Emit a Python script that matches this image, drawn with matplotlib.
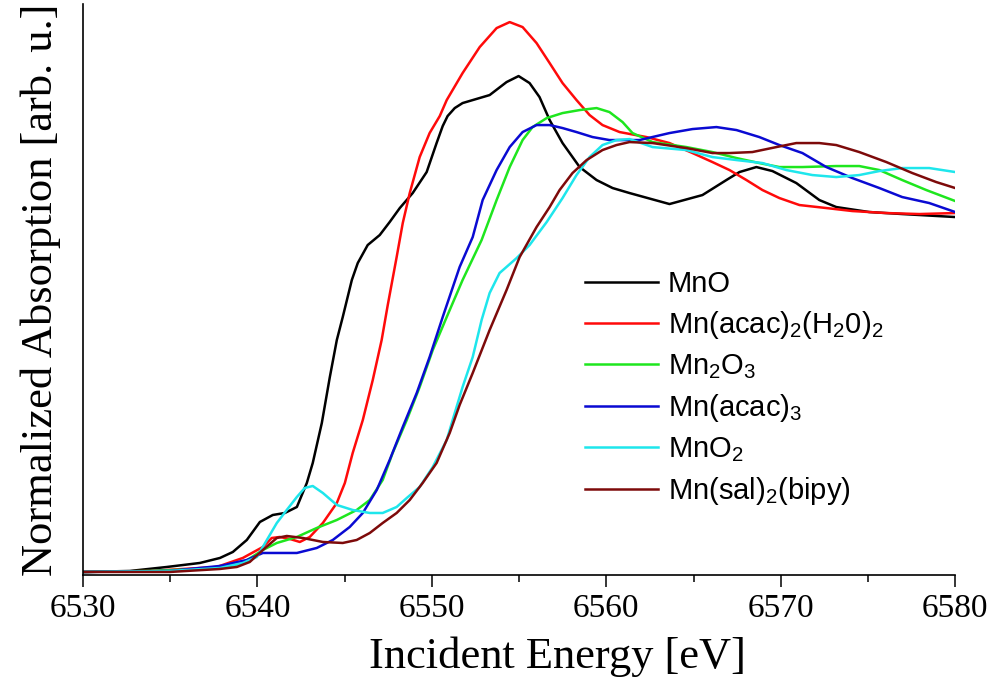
import matplotlib
matplotlib.use('Agg')
import matplotlib.pyplot as plt
from matplotlib.ticker import MultipleLocator, NullLocator

# energies in eV, absorption in arbitrary units
mno_e = [6530.00, 6532.69, 6534.81, 6536.70, 6537.85, 6538.59, 6539.39, 6540.14, 6540.88, 6541.57,
         6542.26, 6542.83, 6543.17, 6543.69, 6544.15, 6544.55, 6544.89, 6545.41, 6545.75, 6546.32,
         6547.01, 6547.58, 6548.16, 6548.90, 6549.70, 6550.27, 6550.62, 6550.90, 6551.31, 6551.76,
         6553.31, 6554.28, 6554.97, 6555.60, 6556.17, 6556.75, 6557.49, 6558.47, 6559.44, 6560.36,
         6561.33, 6563.62, 6565.51, 6566.88, 6567.63, 6568.60, 6569.52, 6570.89, 6572.21, 6573.18,
         6575.07, 6576.96, 6580.00]
mno_a = [0.00, 0.01, 0.05, 0.09, 0.14, 0.20, 0.32, 0.50, 0.57, 0.59,
         0.65, 0.89, 1.09, 1.49, 1.95, 2.32, 2.55, 2.92, 3.09, 3.27,
         3.37, 3.50, 3.64, 3.79, 4.00, 4.29, 4.46, 4.56, 4.64, 4.69,
         4.77, 4.90, 4.96, 4.89, 4.75, 4.52, 4.29, 4.05, 3.92, 3.84,
         3.79, 3.68, 3.77, 3.92, 4.00, 4.05, 4.01, 3.89, 3.72, 3.65,
         3.60, 3.58, 3.55]

acac2_e = [6530.00, 6533.84, 6536.70, 6537.67, 6539.16, 6540.31, 6540.82, 6541.28, 6541.86, 6542.43,
           6543.00, 6543.75, 6544.55, 6545.01, 6545.46, 6546.04, 6546.61, 6547.12, 6547.47, 6547.98,
           6548.33, 6548.73, 6549.30, 6549.87, 6550.45, 6550.85, 6551.76, 6552.74, 6553.71, 6554.46,
           6555.20, 6556.00, 6556.75, 6557.49, 6558.29, 6559.04, 6559.78, 6560.76, 6562.30, 6563.62,
           6564.94, 6566.08, 6567.06, 6568.03, 6568.95, 6569.92, 6571.07, 6572.61, 6574.10, 6576.05,
           6577.94, 6580.00]
acac2_a = [0.00, 0.01, 0.04, 0.05, 0.14, 0.25, 0.34, 0.35, 0.33, 0.30,
           0.35, 0.49, 0.69, 0.89, 1.19, 1.52, 1.92, 2.32, 2.67, 3.15,
           3.49, 3.79, 4.15, 4.39, 4.56, 4.72, 4.99, 5.25, 5.44, 5.50,
           5.45, 5.29, 5.09, 4.89, 4.72, 4.57, 4.47, 4.40, 4.35, 4.29,
           4.19, 4.10, 4.02, 3.92, 3.82, 3.74, 3.67, 3.64, 3.61, 3.59,
           3.58, 3.59]

mn2o3_e = [6530.00, 6533.84, 6536.70, 6538.42, 6539.16, 6540.31, 6541.11, 6542.26, 6543.40, 6544.55,
           6545.69, 6546.44, 6547.18, 6547.75, 6548.56, 6549.30, 6550.05, 6550.85, 6551.76, 6552.85,
           6553.71, 6554.46, 6555.20, 6555.77, 6556.58, 6557.49, 6558.47, 6559.44, 6560.18, 6560.93,
           6561.50, 6562.65, 6564.59, 6566.08, 6567.46, 6568.77, 6569.92, 6571.24, 6573.18, 6574.50,
           6575.65, 6576.96, 6578.34, 6580.00]
mn2o3_a = [0.00, 0.01, 0.03, 0.06, 0.09, 0.22, 0.29, 0.35, 0.44, 0.52,
           0.62, 0.72, 0.92, 1.19, 1.52, 1.85, 2.22, 2.55, 2.92, 3.32,
           3.72, 4.05, 4.32, 4.45, 4.54, 4.59, 4.62, 4.64, 4.60, 4.50,
           4.39, 4.30, 4.25, 4.20, 4.14, 4.09, 4.05, 4.05, 4.06, 4.06,
           4.02, 3.92, 3.82, 3.71]

acac3_e = [6530.00, 6534.98, 6537.85, 6539.39, 6540.31, 6542.26, 6543.40, 6544.32, 6545.29, 6546.04,
           6546.84, 6547.58, 6548.33, 6549.13, 6549.87, 6550.62, 6551.59, 6552.34, 6552.91, 6553.71,
           6554.46, 6555.20, 6556.00, 6556.75, 6557.49, 6558.29, 6559.21, 6560.18, 6561.90, 6563.62,
           6564.94, 6566.31, 6567.46, 6568.77, 6569.92, 6571.24, 6572.61, 6574.10, 6575.65, 6576.96,
           6578.51, 6580.00]
acac3_a = [0.00, 0.01, 0.06, 0.12, 0.19, 0.19, 0.24, 0.32, 0.45, 0.59,
           0.82, 1.12, 1.45, 1.79, 2.15, 2.55, 3.05, 3.35, 3.72, 4.02,
           4.25, 4.40, 4.47, 4.47, 4.44, 4.40, 4.35, 4.32, 4.32, 4.39,
           4.43, 4.45, 4.42, 4.35, 4.27, 4.19, 4.05, 3.94, 3.84, 3.75,
           3.69, 3.60]

mno2_e = [6530.00, 6534.98, 6537.85, 6539.16, 6539.97, 6540.54, 6541.11, 6541.68, 6542.26, 6542.71,
          6543.17, 6543.75, 6544.55, 6545.46, 6546.44, 6547.18, 6547.98, 6548.56, 6549.30, 6550.05,
          6550.85, 6551.19, 6551.76, 6552.34, 6552.85, 6553.31, 6553.88, 6554.86, 6555.60, 6556.58,
          6557.49, 6558.29, 6559.04, 6559.78, 6560.58, 6561.33, 6562.65, 6564.59, 6566.08, 6567.46,
          6568.95, 6570.32, 6571.81, 6573.18, 6574.50, 6575.65, 6576.96, 6578.51, 6580.00]
mno2_a = [0.00, 0.01, 0.04, 0.09, 0.15, 0.32, 0.49, 0.62, 0.75, 0.84,
          0.86, 0.79, 0.67, 0.62, 0.59, 0.59, 0.65, 0.74, 0.85, 1.05,
          1.32, 1.52, 1.85, 2.15, 2.52, 2.79, 2.99, 3.14, 3.27, 3.50,
          3.74, 3.97, 4.15, 4.27, 4.32, 4.33, 4.25, 4.22, 4.15, 4.12,
          4.09, 4.02, 3.97, 3.95, 3.97, 4.01, 4.04, 4.04, 4.00]

sal_e = [6530.00, 6534.98, 6537.85, 6538.82, 6539.56, 6540.31, 6541.11, 6541.68, 6542.60, 6543.75,
         6544.89, 6545.69, 6546.44, 6547.18, 6547.98, 6548.73, 6549.47, 6550.27, 6551.02, 6551.59,
         6552.34, 6553.31, 6554.28, 6555.03, 6556.00, 6556.75, 6557.32, 6558.06, 6558.87, 6559.78,
         6560.58, 6561.33, 6562.65, 6564.59, 6566.08, 6567.06, 6568.37, 6569.75, 6570.89, 6572.21,
         6573.18, 6574.50, 6576.05, 6577.54, 6578.91, 6580.00]
sal_a = [0.00, 0.00, 0.03, 0.05, 0.10, 0.22, 0.34, 0.36, 0.34, 0.30,
         0.29, 0.32, 0.39, 0.49, 0.59, 0.72, 0.89, 1.09, 1.39, 1.67,
         1.99, 2.42, 2.82, 3.15, 3.45, 3.65, 3.82, 3.99, 4.12, 4.22,
         4.27, 4.30, 4.29, 4.24, 4.19, 4.19, 4.20, 4.25, 4.29, 4.29,
         4.27, 4.20, 4.10, 3.99, 3.90, 3.84]

labels = ['MnO', 'Mn(acac)$_2$(H$_2$0)$_2$', 'Mn$_2$O$_3$',
          'Mn(acac)$_3$', 'MnO$_2$', 'Mn(sal)$_2$(bipy)']
colors = ['#000000', '#ff0a0a', '#1ee61e', '#0a0ad2', '#1ee6ec', '#7d0a0a']

plt.rcParams['font.family'] = 'Liberation Serif'
plt.rcParams['mathtext.fontset'] = 'custom'
plt.rcParams['mathtext.rm'] = 'Liberation Sans'
plt.rcParams['mathtext.it'] = 'Liberation Sans:italic'
plt.rcParams['mathtext.bf'] = 'Liberation Sans:bold'

fig = plt.figure(figsize=(9.94, 6.81), dpi=100)
ax = fig.add_axes([0.0835, 0.1557, 0.8775, 0.8383])

series = [(mno_e, mno_a), (acac2_e, acac2_a), (mn2o3_e, mn2o3_a),
          (acac3_e, acac3_a), (mno2_e, mno2_a), (sal_e, sal_a)]
for (e, a), lab, c in zip(series, labels, colors):
    ax.plot(e, a, color=c, lw=1.8, label=lab)

ax.set_xlim(6530, 6580)
ax.set_ylim(-0.03, 5.68)
ax.xaxis.set_major_locator(MultipleLocator(10))
ax.xaxis.set_minor_locator(MultipleLocator(5))
ax.yaxis.set_major_locator(NullLocator())
ax.tick_params(axis='x', which='major', direction='out', length=8.5, width=1.1,
               labelsize=24, pad=5)
ax.tick_params(axis='x', which='minor', direction='out', length=5, width=1.1)
for side in ['top', 'right']:
    ax.spines[side].set_visible(False)
for side in ['left', 'bottom']:
    ax.spines[side].set_linewidth(1.2)

ax.set_xlabel('Incident Energy [eV]', fontsize=32, labelpad=9)
ax.xaxis.label.set_x(0.5436)  # label sits a bit right of centre in the original
ax.set_ylabel('Normalized Absorption [arb. u.]', fontsize=32, labelpad=16)

leg = ax.legend(loc='upper left', bbox_to_anchor=(585 / 994, 1 - 270 / 681),
                bbox_transform=fig.transFigure, frameon=False, borderpad=0,
                borderaxespad=0, handlelength=2.5, handletextpad=0.35,
                labelspacing=0.38, prop={'family': 'Liberation Sans', 'size': 21})

fig.savefig('out.png', dpi=100)
